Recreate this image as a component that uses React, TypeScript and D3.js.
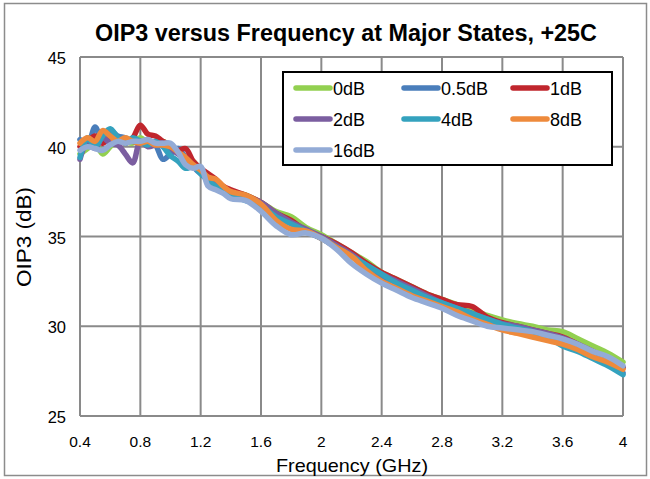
import React from 'react';
import * as d3 from 'd3';

const freqs = [
  0.4, 0.45, 0.5, 0.55, 0.6, 0.65, 0.7, 0.75, 0.8, 0.85, 0.9, 0.95, 1.0, 1.05, 1.1, 1.15, 1.2, 1.25, 1.3, 1.35, 1.4,
  1.5, 1.6, 1.7, 1.8, 1.9, 2.0, 2.1, 2.2, 2.3, 2.4, 2.5, 2.6, 2.7, 2.8, 2.9, 3.0, 3.1, 3.2, 3.3, 3.4, 3.5, 3.6, 3.7, 3.8, 3.9, 4.0,
];

const s0dB = [
  39.6, 39.9, 40.2, 39.6, 40.0, 40.4, 40.3, 40.2, 40.5, 40.2, 40.1, 40.3, 40.0, 39.7, 39.2, 39.2, 38.6, 38.4, 38.0, 37.7, 37.5,
  37.3, 36.9, 36.4, 36.1, 35.5, 35.1, 34.6, 34.1, 33.6, 33.0, 32.6, 32.2, 31.8, 31.5, 31.2, 30.9, 30.6, 30.35, 30.15, 30.0, 29.8, 29.7, 29.3, 28.9, 28.5, 28.0,
];
const s05dB = [
  40.4, 40.1, 41.1, 40.3, 40.9, 40.6, 40.5, 40.3, 40.2, 40.3, 40.1, 39.3, 39.6, 39.9, 39.4, 38.9, 38.5, 38.2, 37.8, 37.5, 37.3,
  37.1, 36.8, 36.2, 35.8, 35.3, 34.9, 34.4, 33.9, 33.3, 32.8, 32.4, 32.0, 31.6, 31.3, 31.0, 30.7, 30.4, 30.1, 29.9, 29.7, 29.4, 29.0, 28.7, 28.3, 27.9, 27.4,
];
const s1dB = [
  40.0, 40.3, 40.6, 40.2, 40.5, 40.4, 40.2, 40.5, 41.2, 40.7, 40.6, 40.3, 40.1, 39.8, 39.9, 39.2, 38.8, 38.5, 38.2, 37.8, 37.6,
  37.3, 36.9, 36.3, 35.9, 35.3, 35.0, 34.6, 34.1, 33.5, 33.0, 32.6, 32.2, 31.8, 31.5, 31.2, 31.1, 30.5, 30.2, 30.0, 29.8, 29.6, 29.4, 29.0, 28.6, 28.2, 27.7,
];
const s2dB = [
  39.3, 40.3, 39.9, 40.5, 40.2, 40.1, 39.6, 39.1, 40.3, 40.0, 40.1, 40.2, 39.9, 39.6, 39.3, 38.9, 38.6, 38.3, 37.9, 37.6, 37.4,
  37.2, 36.9, 36.3, 35.8, 35.4, 35.0, 34.5, 34.0, 33.4, 32.9, 32.5, 32.1, 31.7, 31.3, 31.0, 30.7, 30.4, 30.15, 30.0, 29.8, 29.6, 29.35, 29.0, 28.6, 28.2, 27.7,
];
const s4dB = [
  39.4, 40.5, 40.0, 40.6, 41.0, 40.5, 40.2, 40.5, 40.3, 40.1, 40.3, 40.0, 39.5, 39.2, 38.8, 38.9, 38.5, 38.1, 37.8, 37.5, 37.3,
  37.0, 36.7, 36.1, 35.7, 35.3, 34.9, 34.4, 33.9, 33.4, 32.9, 32.4, 32.0, 31.6, 31.3, 31.0, 30.7, 30.4, 30.1, 29.9, 29.7, 29.4, 28.9, 28.6, 28.2, 27.8, 27.3,
];
const s8dB = [
  40.2, 40.5, 40.3, 40.9, 40.6, 40.3, 40.5, 40.3, 40.2, 40.3, 40.1, 40.1, 40.0, 39.7, 39.4, 39.0, 38.7, 38.3, 38.2, 37.8, 37.5,
  37.3, 36.8, 35.9, 35.4, 35.3, 34.9, 34.4, 33.9, 33.1, 32.5, 32.1, 31.7, 31.4, 31.1, 30.8, 30.4, 30.1, 29.8, 29.6, 29.4, 29.2, 29.0, 28.7, 28.3, 28.0, 27.6,
];
const s16dB = [
  39.8, 40.0, 39.9, 39.8, 40.1, 40.3, 40.2, 40.3, 40.3, 40.4, 40.2, 40.2, 40.2, 39.7, 39.0, 38.8, 38.9, 37.8, 37.6, 37.4, 37.1,
  37.0, 36.4, 35.6, 35.1, 35.2, 34.9, 34.3, 33.5, 32.9, 32.4, 32.0, 31.6, 31.3, 31.0, 30.6, 30.3, 30.0, 29.9, 29.8, 29.7, 29.5, 29.3, 29.0, 28.6, 28.3, 27.8,
];

const seriesNames = ['0dB', '0.5dB', '1dB', '2dB', '4dB', '8dB', '16dB'];
const seriesValues = [s0dB, s05dB, s1dB, s2dB, s4dB, s8dB, s16dB];
const seriesColors = ['#92D050', '#4A7EBB', '#C0262D', '#7B5EA0', '#34A2BE', '#EE8A3C', '#93ABD6'];

const xTicks = [0.4, 0.8, 1.2, 1.6, 2, 2.4, 2.8, 3.2, 3.6, 4];
const yTicks = [25, 30, 35, 40, 45];

const titleText = 'OIP3 versus Frequency at Major States, +25C';
const xTitle = 'Frequency (GHz)';
const yTitle = 'OIP3 (dB)';

const FONT = '"Liberation Sans", Arial, Helvetica, sans-serif';

export default function App() {
  const W = 650;
  const H = 479;
  const x = d3.scaleLinear().domain([0.4, 4]).range([80, 623]);
  const y = d3.scaleLinear().domain([25, 45]).range([416, 57]);
  const grid = '#8A8A8A';

  const line = d3
    .line<number>()
    .x((_, i) => x(freqs[i]))
    .y((d) => y(d))
    .curve(d3.curveCatmullRom.alpha(0.5));

  const legendCols = [296, 404, 513];
  const legendRows = [88, 119, 150];

  return (
    <svg
      width={W}
      height={H}
      style={{ position: 'absolute', left: 0, top: 0, background: '#fff' }}
      fontFamily={FONT}
    >
      <rect x={0} y={0} width={W} height={H} fill="#fff" />
      <rect x={4.5} y={3.5} width={642} height={472} fill="none" stroke="#8C8C8C" strokeWidth={1.5} />

      <text
        x={346}
        y={41}
        textAnchor="middle"
        fontSize={23.5}
        fontWeight="bold"
        textLength={502}
        lengthAdjust="spacingAndGlyphs"
        fill="#000"
      >
        {titleText}
      </text>

      {/* grid */}
      {xTicks.map((t) => (
        <line key={'gx' + t} x1={x(t)} x2={x(t)} y1={y(45)} y2={y(25)} stroke={grid} strokeWidth={2} />
      ))}
      {yTicks.map((t) => (
        <line key={'gy' + t} x1={x(0.4)} x2={x(4)} y1={y(t)} y2={y(t)} stroke={grid} strokeWidth={2} />
      ))}

      {/* series */}
      {seriesValues.map((vals, i) => (
        <path
          key={seriesNames[i]}
          d={line(vals) || ''}
          fill="none"
          stroke={seriesColors[i]}
          strokeWidth={5.5}
          strokeLinejoin="round"
          strokeLinecap="round"
        />
      ))}

      {/* y tick labels */}
      {yTicks.map((t) => (
        <text key={'yl' + t} x={66} y={y(t) + 7} textAnchor="end" fontSize={16.5} fill="#000">
          {t}
        </text>
      ))}
      {/* x tick labels */}
      {xTicks.map((t) => (
        <text key={'xl' + t} x={x(t)} y={447} textAnchor="middle" fontSize={15.5} fill="#000">
          {t}
        </text>
      ))}

      <text x={352} y={472} textAnchor="middle" fontSize={19} textLength={152} lengthAdjust="spacingAndGlyphs" fill="#000">
        {xTitle}
      </text>
      <text
        transform={`translate(31,237) rotate(-90)`}
        textAnchor="middle"
        fontSize={19.5}
        textLength={100}
        lengthAdjust="spacingAndGlyphs"
        fill="#000"
      >
        {yTitle}
      </text>

      {/* legend */}
      <rect x={283} y={72} width={329} height={93} fill="#fff" stroke="#000" strokeWidth={2} />
      {seriesNames.map((name, i) => {
        const cx = legendCols[i % 3];
        const cy = legendRows[Math.floor(i / 3)];
        return (
          <g key={'lg' + name}>
            <line x1={cx} x2={cx + 34} y1={cy} y2={cy} stroke={seriesColors[i]} strokeWidth={5.5} strokeLinecap="round" />
            <text x={cx + 37} y={cy + 6.5} fontSize={18} fill="#000">
              {name}
            </text>
          </g>
        );
      })}
    </svg>
  );
}
